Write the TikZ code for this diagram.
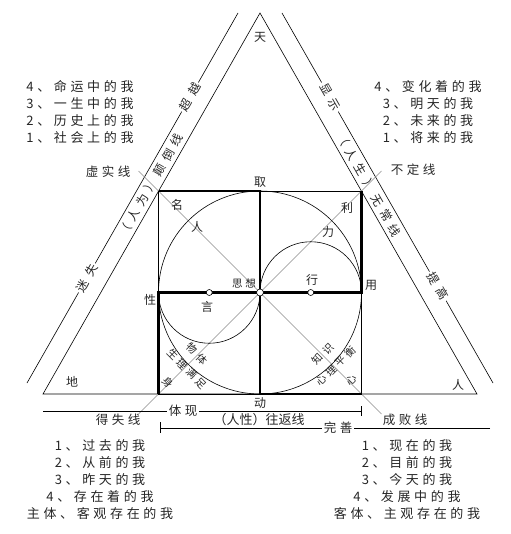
\documentclass[tikz,border=0pt]{standalone}
\usepackage{fontspec}
\newfontfamily\cjkn{Noto Sans CJK SC}
\newfontfamily\cjk[LetterSpace=28]{Noto Sans CJK SC}
\newfontfamily\cjkw[LetterSpace=45]{Noto Sans CJK SC}
\usetikzlibrary{positioning}

\begin{document}
\begin{tikzpicture}[x=1pt,y=-1pt,line width=0.6pt,inner sep=1pt,
                    text=black!85]
	  \tikzstyle{lbl}=[font=\cjkn\fontsize{12}{12}\selectfont]
	  \tikzstyle{small}=[font=\cjk\fontsize{10.5}{10.5}\selectfont,inner sep=0pt]
	  \tikzstyle{wide}=[font=\cjkw\fontsize{12}{12}\selectfont]
	  \tikzstyle{tag}=[font=\cjk\fontsize{12.5}{12.5}\selectfont]
	  \tikzstyle{lst}=[font=\cjk\fontsize{13}{17}\selectfont,align=center,inner sep=0pt]
	  \tikzstyle{gap}=[fill=white,inner sep=2pt]
	  \tikzstyle{heavy}=[line width=2.8pt]
	  \tikzstyle{guide}=[black!45,line width=0.4pt]
	  \tikzstyle{dot}=[circle,draw,fill=white,inner sep=0pt,minimum size=7pt]

	  \useasboundingbox (0,0) rectangle (510,534);

	  % triangle and outer lines
	  \coordinate (T)  at (260,13);
	  \coordinate (L)  at (43,394);
	  \coordinate (R)  at (477,394);
	  \coordinate (TL) at (238,13);
	  \coordinate (BL) at (27,383);
	  \coordinate (TR) at (282,13);
	  \coordinate (BR) at (493,383);
	  \draw (T) -- (L) -- (R) -- cycle;
	  \draw (TL) -- (BL);
	  \draw (TR) -- (BR);

	  % square
	  \coordinate (O)  at (260,292.5);
	  \coordinate (Q1) at (158.5,191);
	  \coordinate (Q2) at (361.5,191);
	  \coordinate (Q3) at (361.5,394);
	  \coordinate (Q4) at (158.5,394);
	  \coordinate (N)  at (260,191);
	  \coordinate (E)  at (361.5,292.5);
	  \coordinate (S)  at (260,394);
	  \coordinate (W)  at (158.5,292.5);
	  \coordinate (D1) at (138.5,171);
	  \coordinate (D2) at (381.5,171);
	  \coordinate (D3) at (381.5,414);
	  \coordinate (D4) at (138.5,414);

	  \draw[guide] (D1) -- (D3) (D2) -- (D4);
	  \draw (O) circle[radius=101.5];
	  \draw (O) arc[start angle=180,end angle=360,radius=50.75];
	  \draw (W) arc[start angle=180,end angle=0,radius=50.75];
	  \draw (Q1) rectangle (Q3);
	  \draw[heavy] (Q1) -- (N) -- (S) -- (Q3);
	  \draw[heavy] (Q2) -- (E) -- (W) -- (Q4);

	  \node[dot] (P0) at (O) {};
	  \node[dot,minimum size=6pt] (P1) at (209.25,292.5) {};
	  \node[dot,minimum size=6pt] (P2) at (310.75,292.5) {};

	  % bottom lines
	  \coordinate (H1) at (43,411);
	  \coordinate (H2) at (361,411);
	  \coordinate (H3) at (160,428);
	  \coordinate (H4) at (490,428);
	  \draw (H1) -- (H2) ++(0,-5) -- ++(0,10);
	  \draw (H4) -- (H3) ++(0,-6) -- ++(0,11);

	  % corners of the triangle
	  \node[lbl] (Tian) at (260,37)  {天};
	  \node[lbl] (Di)   at (72,382)  {地};
	  \node[lbl] (Ren)  at (458,385) {人};

	  % around the square
	  \node[lbl] (Qu)   [above=2pt of N] {取};
	  \node[lbl] (Dong) [below=2pt of S] {动};
	  \node[lbl] (Xing) at (150,300) {性};
	  \node[lbl] (Yong) at (371,285) {用};
	  \node[small] (Sixiang) at (244,283) {思想};
	  \node[lbl] (Yan)  at (207,307) {言};
	  \node[lbl] (Hang) at (312,280) {行};
	  \node[lbl] (Ming) at (177,205) {名};
	  \node[lbl] (RenA) at (197,227) {人};
	  \node[lbl] (Li)   at (347,208) {利};
	  \node[lbl] (LiB)  at (328,232) {力};
	  \node[font=\cjkw\fontsize{10.5}{10.5}\selectfont,inner sep=0pt,rotate=-45] (Wuti) at (197,354) {物体};
	  \node[small,rotate=-45] (Shengli) at (187,369) {生理满足};
	  \node[small,rotate=-45] (Shen) at (168,382) {身};
	  \node[font=\cjkw\fontsize{10.5}{10.5}\selectfont,inner sep=0pt,rotate=45] (Zhishi) at (323,354) {知识};
	  \node[small,rotate=45] (Xinli) at (336,366) {心理平衡};
	  \node[small,rotate=45] (Xin)  at (351,380) {心};

	  % bands along the sides
	  \node[wide,rotate=60.33] (Diandao) at (151,185) {（人为）颠倒线};
	  \node[wide,rotate=-60.33] (Wuchang) at (369,185) {（人生）无常线};
	  \node[wide,gap,rotate=60.33] (Mishi) at (87,278) {迷失};
	  \node[wide,gap,rotate=60.33] (Chaoyue) at (190,97) {超越};
	  \node[wide,gap,rotate=-60.33] (Xianshi) at (330,97) {显示};
	  \node[wide,gap,rotate=-60.33] (Tigao) at (438,286) {提高};

	  \node[tag] (Xushi) at (108,172) {虚实线};
	  \node[tag] (Buding) at (413,170) {不定线};
	  \node[tag] (Deshi) at (118,420) {得失线};
	  \node[tag] (Chengbai) at (405,420) {成败线};
	  \node[tag,gap] (Tixian) at (183,411) {体现};
	  \node[tag,gap] (Wanshan) at (338,428) {完善};
	  \node[font=\cjkn\fontsize{13}{13}\selectfont] (Wangfan) at (259,420) {（人性）往返线};

	  % the four lists
	  \node[lst] (M1) at (80,112)  {4、命运中的我\\3、一生中的我\\2、历史上的我\\1、社会上的我};
	  \node[lst] (M2) at (428,112) {4、变化着的我\\3、明天的我\\2、未来的我\\1、将来的我};
	  \node[lst] (M3) at (100,480) {1、过去的我\\2、从前的我\\3、昨天的我\\4、存在着的我\\主体、客观存在的我};
	  \node[lst] (M4) at (407,480) {1、现在的我\\2、目前的我\\3、今天的我\\4、发展中的我\\客体、主观存在的我};
\end{tikzpicture}
\end{document}
